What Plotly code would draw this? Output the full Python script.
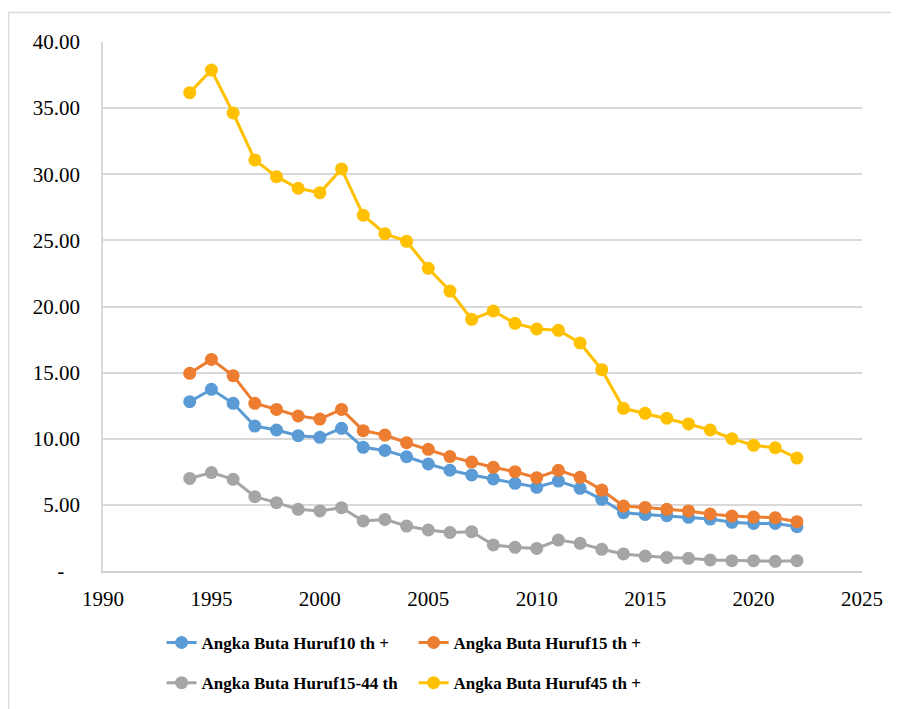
import plotly.graph_objects as go

years = list(range(1994, 2023))

abh_10 = [12.80, 13.74, 12.68, 10.96, 10.66, 10.23, 10.11, 10.79, 9.35, 9.12, 8.64, 8.09, 7.62,
          7.26, 6.96, 6.63, 6.33, 6.80, 6.25, 5.42, 4.41, 4.28, 4.18, 4.06, 3.93, 3.68, 3.60, 3.60, 3.35]
abh_15 = [14.95, 16.00, 14.77, 12.68, 12.22, 11.72, 11.49, 12.22, 10.61, 10.28, 9.70, 9.20, 8.65,
          8.24, 7.84, 7.51, 7.06, 7.61, 7.08, 6.12, 4.91, 4.81, 4.66, 4.54, 4.31, 4.16, 4.08, 4.03, 3.73]
abh_15_44 = [7.00, 7.44, 6.93, 5.62, 5.17, 4.66, 4.54, 4.79, 3.78, 3.90, 3.40, 3.10, 2.91,
             2.97, 1.97, 1.79, 1.71, 2.34, 2.09, 1.64, 1.29, 1.13, 1.03, 0.96, 0.83, 0.78, 0.78, 0.73, 0.78]
abh_45 = [36.17, 37.88, 34.63, 31.08, 29.82, 28.94, 28.60, 30.40, 26.90, 25.50, 24.93, 22.89, 21.17,
          19.03, 19.66, 18.73, 18.30, 18.20, 17.24, 15.22, 12.30, 11.92, 11.55, 11.12, 10.66, 10.00, 9.50, 9.32, 8.54]

names = ["Angka Buta Huruf10 th +", "Angka Buta Huruf15 th +",
         "Angka Buta Huruf15-44 th", "Angka Buta Huruf45 th +"]
colors = ["#5B9BD5", "#ED7D31", "#A5A5A5", "#FFC000"]

y_tickvals = [0, 5, 10, 15, 20, 25, 30, 35, 40]
y_ticktext = ["-\u00a0\u00a0\u00a0", "5.00", "10.00", "15.00", "20.00", "25.00", "30.00", "35.00", "40.00"]
x_tickvals = [1990, 1995, 2000, 2005, 2010, 2015, 2020, 2025]

fig = go.Figure()
series = [abh_10, abh_15, abh_15_44, abh_45]
legend_ids = ["legend", "legend", "legend2", "legend2"]
for vals, nm, col, lg in zip(series, names, colors, legend_ids):
    fig.add_trace(go.Scatter(
        x=years, y=vals, name=nm, mode="lines+markers",
        line=dict(color=col, width=3),
        marker=dict(color=col, size=13),
        legend=lg,
    ))

serif = "Liberation Serif"
legend_common = dict(
    orientation="h", xanchor="left", yanchor="middle",
    font=dict(family=serif, size=17, color="#000000", weight="bold"),
    entrywidth=207, bgcolor="rgba(0,0,0,0)", itemclick=False,
)

fig.update_layout(
    width=891, height=701,
    margin=dict(l=95, r=37, t=34, b=138, autoexpand=False),
    paper_bgcolor="white", plot_bgcolor="white",
    font=dict(family=serif, size=21, color="#000000"),
    showlegend=True,
    legend=dict(x=0.0772, y=-0.136, **legend_common),
    legend2=dict(x=0.0772, y=-0.212, **legend_common),
    xaxis=dict(
        range=[1990, 2025], tickvals=x_tickvals, showgrid=False,
        showline=True, linecolor="#d0d0d0", linewidth=1.5,
        ticks="", ticklabelstandoff=8, zeroline=False,
        tickfont=dict(family=serif, size=21, color="#000000"),
    ),
    yaxis=dict(
        range=[0, 40], tickvals=y_tickvals, ticktext=y_ticktext,
        showgrid=True, gridcolor="#d9d9d9", gridwidth=1.5,
        showline=True, linecolor="#d9d9d9", linewidth=1.5,
        ticks="", ticklabelstandoff=17, zeroline=False,
        tickfont=dict(family=serif, size=21, color="#000000"),
    ),
    shapes=[
        dict(type="line", xref="paper", yref="paper", x0=-0.1245, x1=1.1, y0=1.0558, y1=1.0558,
             line=dict(color="#d9d9d9", width=1.5)),
        dict(type="line", xref="paper", yref="paper", x0=-0.1245, x1=-0.1245, y0=1.0558, y1=-0.3,
             line=dict(color="#d9d9d9", width=1.5)),
    ],
)

fig.write_html("out.html")
